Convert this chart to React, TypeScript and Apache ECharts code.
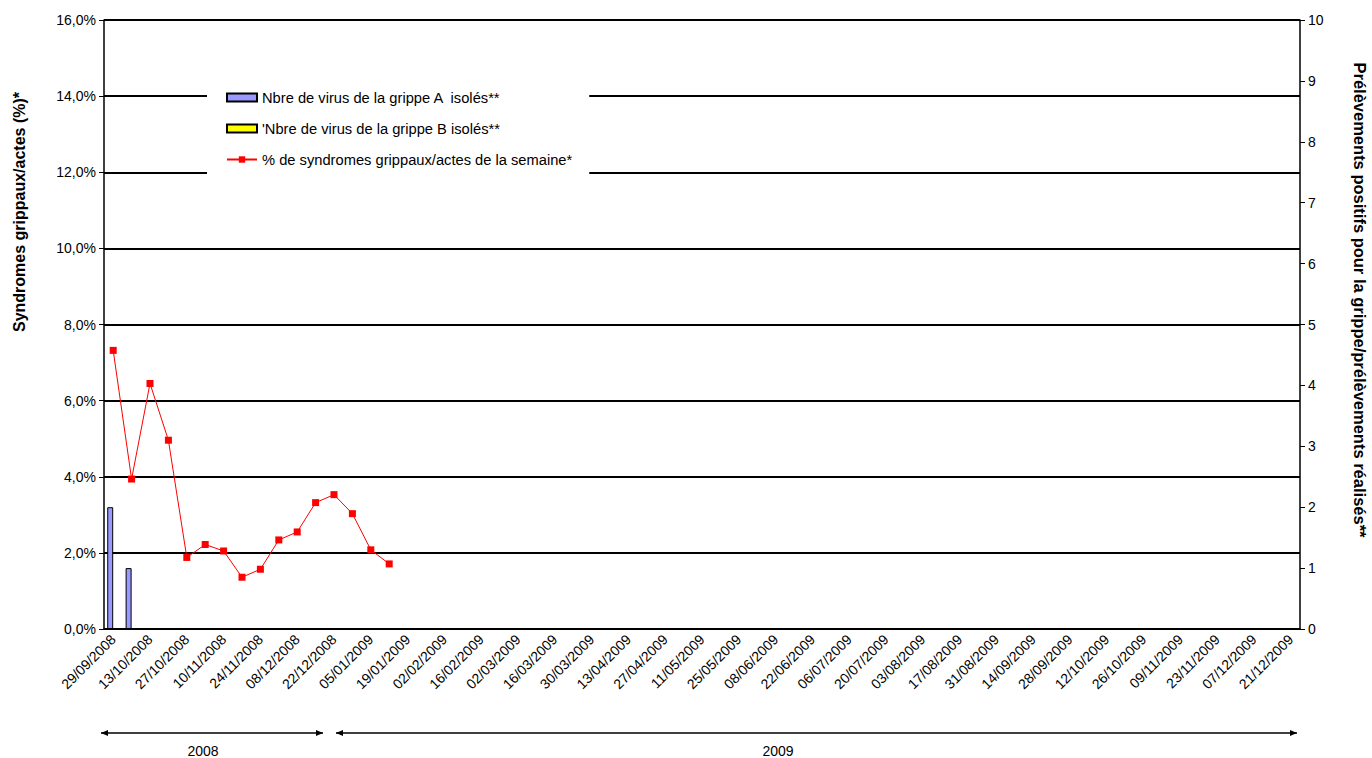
import React, { useEffect, useRef } from "react";
import * as echarts from "echarts";

const weeks: string[] = [
  "29/09/2008", "06/10/2008", "13/10/2008", "20/10/2008", "27/10/2008", "03/11/2008", "10/11/2008",
  "17/11/2008", "24/11/2008", "01/12/2008", "08/12/2008", "15/12/2008", "22/12/2008", "29/12/2008",
  "05/01/2009", "12/01/2009", "19/01/2009", "26/01/2009", "02/02/2009", "09/02/2009", "16/02/2009",
  "23/02/2009", "02/03/2009", "09/03/2009", "16/03/2009", "23/03/2009", "30/03/2009", "06/04/2009",
  "13/04/2009", "20/04/2009", "27/04/2009", "04/05/2009", "11/05/2009", "18/05/2009", "25/05/2009",
  "01/06/2009", "08/06/2009", "15/06/2009", "22/06/2009", "29/06/2009", "06/07/2009", "13/07/2009",
  "20/07/2009", "27/07/2009", "03/08/2009", "10/08/2009", "17/08/2009", "24/08/2009", "31/08/2009",
  "07/09/2009", "14/09/2009", "21/09/2009", "28/09/2009", "05/10/2009", "12/10/2009", "19/10/2009",
  "26/10/2009", "02/11/2009", "09/11/2009", "16/11/2009", "23/11/2009", "30/11/2009", "07/12/2009",
  "14/12/2009", "21/12/2009",
];

const grippeA: number[] = [2, 1];
const grippeB: number[] = [0, 0];
const syndromesPct: number[] = [
  7.32, 3.94, 6.45, 4.96, 1.88, 2.22, 2.05, 1.36, 1.57, 2.34, 2.55, 3.32, 3.53, 3.03, 2.08, 1.71,
];

const nameA = "Nbre de virus de la grippe A  isolés**";
const nameB = "'Nbre de virus de la grippe B isolés**";
const nameLine = "% de syndromes grippaux/actes de la semaine*";
const leftTitle = "Syndromes grippaux/actes (%)*";
const rightTitle = "Prélèvements positifs pour la grippe/prélèvements réalisés**";

const FONT = "'Liberation Sans', Arial, sans-serif";
const FS = 14;

export default function App() {
  const ref = useRef<HTMLDivElement>(null);
  useEffect(() => {
    if (!ref.current) return;
    const chart = echarts.init(ref.current, undefined, { renderer: "svg" });
    const arrowY = 733;
    chart.setOption({
      animation: false,
      backgroundColor: "#fff",
      textStyle: { fontFamily: FONT, color: "#000" },
      grid: { left: 104, right: 72, top: 20, bottom: 129, containLabel: false },
      legend: {
        orient: "vertical",
        left: 207,
        top: 83,
        backgroundColor: "#fff",
        padding: [7, 17, 8, 19],
        itemGap: 16,
        itemWidth: 30,
        itemHeight: 8,
        textStyle: { fontFamily: FONT, fontSize: 14.7, color: "#000" },
        data: [
          { name: nameA, icon: "rect" },
          { name: nameB, icon: "rect" },
          { name: nameLine },
        ],
      },
      xAxis: {
        type: "category",
        data: weeks,
        boundaryGap: true,
        axisLine: { lineStyle: { color: "#000", width: 1.5 } },
        axisTick: { interval: 0, length: 5, lineStyle: { color: "#000" } },
        axisLabel: {
          interval: 1,
          rotate: 45,
          fontSize: FS,
          color: "#000",
          fontFamily: FONT,
          margin: 8,
        },
        splitLine: { show: false },
      },
      yAxis: [
        {
          type: "value",
          min: 0,
          max: 16,
          interval: 2,
          position: "left",
          axisLine: { show: true, lineStyle: { color: "#000", width: 1.5 } },
          axisTick: { show: true, length: 5, lineStyle: { color: "#000" } },
          axisLabel: {
            fontSize: FS,
            color: "#000",
            fontFamily: FONT,
            margin: 8,
            formatter: (v: number) => v.toFixed(1).replace(".", ",") + "%",
          },
          splitLine: { show: true, lineStyle: { color: "#000", width: 2 } },
        },
        {
          type: "value",
          min: 0,
          max: 10,
          interval: 1,
          position: "right",
          axisLine: { show: true, lineStyle: { color: "#000", width: 1.5 } },
          axisTick: { show: true, length: 5, lineStyle: { color: "#000" } },
          axisLabel: { fontSize: FS, color: "#000", fontFamily: FONT, margin: 8 },
          splitLine: { show: false },
        },
      ],
      series: [
        {
          name: nameA,
          type: "bar",
          yAxisIndex: 1,
          data: grippeA,
          barGap: "0%",
          barCategoryGap: "35%",
          itemStyle: { color: "#9999FF", borderColor: "#000", borderWidth: 1 },
        },
        {
          name: nameB,
          type: "bar",
          yAxisIndex: 1,
          data: grippeB,
          itemStyle: { color: "#FFFF00", borderColor: "#000", borderWidth: 1 },
        },
        {
          name: nameLine,
          type: "line",
          yAxisIndex: 0,
          data: syndromesPct,
          symbol: "rect",
          symbolSize: 7,
          lineStyle: { color: "#FF0000", width: 1 },
          itemStyle: { color: "#FF0000" },
          z: 5,
        },
      ],
      graphic: [
        {
          type: "text",
          x: 19,
          y: 212,
          rotation: Math.PI / 2,
          style: {
            text: leftTitle,
            font: `bold 16px ${FONT}`,
            fill: "#000",
            align: "center",
            verticalAlign: "middle",
          },
        },
        {
          type: "text",
          x: 1360,
          y: 300,
          rotation: -Math.PI / 2,
          style: {
            text: rightTitle,
            font: `bold 16.5px ${FONT}`,
            fill: "#000",
            align: "center",
            verticalAlign: "middle",
          },
        },
        { type: "line", shape: { x1: 101, y1: arrowY, x2: 323, y2: arrowY }, style: { stroke: "#000", lineWidth: 1.5 } },
        { type: "polygon", shape: { points: [[101, arrowY], [108, arrowY - 3], [108, arrowY + 3]] }, style: { fill: "#000" } },
        { type: "polygon", shape: { points: [[323, arrowY], [316, arrowY - 3], [316, arrowY + 3]] }, style: { fill: "#000" } },
        { type: "line", shape: { x1: 336, y1: arrowY, x2: 1297, y2: arrowY }, style: { stroke: "#000", lineWidth: 1.5 } },
        { type: "polygon", shape: { points: [[336, arrowY], [343, arrowY - 3], [343, arrowY + 3]] }, style: { fill: "#000" } },
        { type: "polygon", shape: { points: [[1297, arrowY], [1290, arrowY - 3], [1290, arrowY + 3]] }, style: { fill: "#000" } },
        {
          type: "text",
          x: 203,
          y: 751,
          style: { text: "2008", font: `${FS}px ${FONT}`, fill: "#000", align: "center", verticalAlign: "middle" },
        },
        {
          type: "text",
          x: 778,
          y: 751,
          style: { text: "2009", font: `${FS}px ${FONT}`, fill: "#000", align: "center", verticalAlign: "middle" },
        },
      ],
    });
    return () => chart.dispose();
  }, []);
  return (
    <div
      ref={ref}
      style={{ position: "absolute", left: 0, top: 0, width: 1372, height: 758 }}
    />
  );
}
